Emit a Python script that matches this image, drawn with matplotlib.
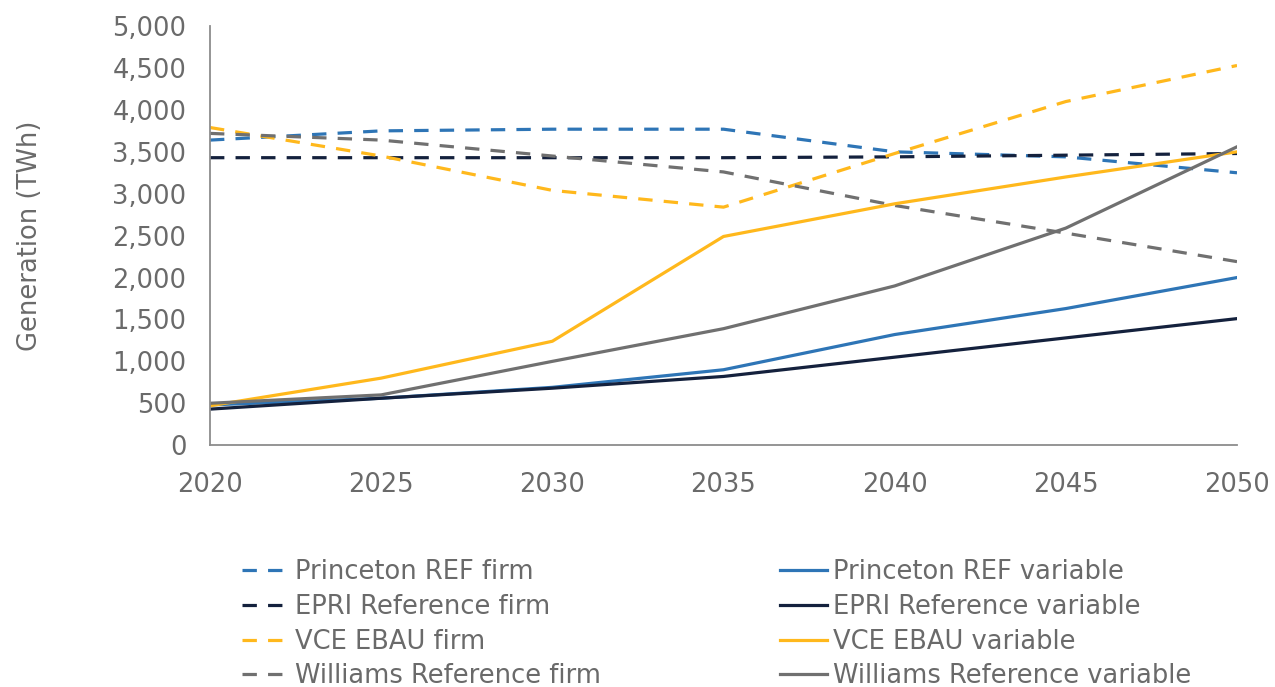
import matplotlib.pyplot as plt

years = [2020, 2025, 2030, 2035, 2040, 2045, 2050]

princeton_firm = [3640, 3750, 3770, 3770, 3500, 3440, 3250]
epri_firm = [3430, 3430, 3430, 3430, 3440, 3460, 3480]
vce_firm = [3790, 3450, 3040, 2840, 3480, 4100, 4530]
williams_firm = [3720, 3640, 3450, 3260, 2860, 2530, 2190]

princeton_var = [480, 560, 690, 900, 1320, 1630, 2000]
epri_var = [430, 560, 680, 820, 1050, 1280, 1510]
vce_var = [470, 800, 1240, 2490, 2880, 3200, 3500]
williams_var = [500, 600, 1000, 1390, 1900, 2590, 3560]

blue = '#2E75B6'
navy = '#14213D'
yellow = '#FFB81C'
gray = '#707070'
text_col = '#6a6a6a'

plt.rcParams['font.family'] = ['DejaVu Sans']
fs = 18.5

fig = plt.figure(figsize=(12.75, 6.87), dpi=100)
ax = fig.add_axes([0.1647, 0.352, 0.8055, 0.61])

lw = 2.3
dash = (4.5, 3.5)
ax.plot(years, princeton_firm, color=blue, lw=lw, dashes=dash, label='Princeton REF firm')
ax.plot(years, epri_firm, color=navy, lw=lw, dashes=dash, label='EPRI Reference firm')
ax.plot(years, vce_firm, color=yellow, lw=lw, dashes=dash, label='VCE EBAU firm')
ax.plot(years, williams_firm, color=gray, lw=lw, dashes=dash, label='Williams Reference firm')
ax.plot(years, princeton_var, color=blue, lw=lw, label='Princeton REF variable')
ax.plot(years, epri_var, color=navy, lw=lw, label='EPRI Reference variable')
ax.plot(years, vce_var, color=yellow, lw=lw, label='VCE EBAU variable')
ax.plot(years, williams_var, color=gray, lw=lw, label='Williams Reference variable')

ax.set_xlim(2020, 2050)
ax.set_ylim(0, 5000)
ax.set_xticks(years)
ax.set_yticks(range(0, 5001, 500))
ax.yaxis.set_major_formatter(plt.FuncFormatter(lambda v, p: f'{int(v):,}'))
ax.tick_params(length=0, labelsize=fs, colors=text_col)
ax.tick_params(axis='y', pad=17)
ax.tick_params(axis='x', pad=19)
for s in ['top', 'right']:
    ax.spines[s].set_visible(False)
for s in ['left', 'bottom']:
    ax.spines[s].set_color('#8c8c8c')
    ax.spines[s].set_linewidth(1.3)
ax.set_ylabel('Generation (TWh)', fontsize=fs, color=text_col, labelpad=50)

ax.legend(loc='upper left', bbox_to_anchor=(0.031, -0.272), ncol=2, frameon=False,
          fontsize=fs, labelcolor=text_col, handlelength=1.8, handletextpad=0.25,
          columnspacing=7.0, labelspacing=0.34, borderaxespad=0, borderpad=0)

fig.savefig('out.png', dpi=100)
